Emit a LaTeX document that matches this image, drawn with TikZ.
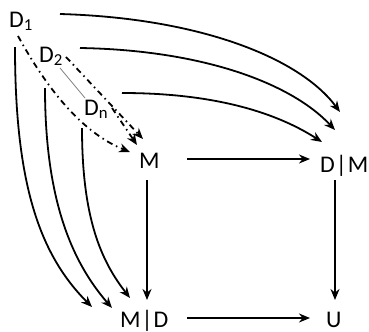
\documentclass[tikz,border=0pt]{standalone}
\usepackage{fontspec}
\setmainfont{Carlito}
\usetikzlibrary{arrows.meta}
\newcommand{\givenbar}{\kern1bp|\kern1bp}
\begin{document}
\begin{tikzpicture}[x=1bp,y=-1bp,
  lbl/.style={font=\fontsize{24}{27}\selectfont, inner sep=0pt, anchor=base west},
  conn/.style={line width=1.8bp, -{Stealth[length=11bp,width=9bp]}},
  dashdot/.style={conn, dash pattern=on 6bp off 4bp on 1.5bp off 4bp},
  dots/.style={line width=0.8bp, gray}]
\useasboundingbox (0,0) rectangle (369,332);

% labels
\node[lbl] (D1) at (9,27)   {D\textsubscript{1}};
\node[lbl] (D2) at (39,62)  {D\textsubscript{2}};
\node[lbl] (Dn) at (84,115) {D\textsubscript{n}};
\node[lbl] (M)  at (139,168) {M};
\node[lbl] (DM) at (320,172) {D\givenbar M};
\node[lbl] (MD) at (120,327) {M\givenbar D};
\node[lbl] (U)  at (326,327) {U};

% ellipsis between D2 and Dn
\draw[dots] ([shift={(21,6)}]D2.base west) -- ([shift={(1,-17)}]Dn.base west);

% each D_i onto M
\draw[dashdot] ([shift={(9,9)}]D1.base west)
  .. controls (45,85) and (80,132) .. ([shift={(-9,-16)}]M.base west);
\draw[dashdot] ([shift={(27,-5)}]D2.base west) -- ([shift={(4,-29)}]M.base west);
\draw[dashdot] ([shift={(28,-7)}]Dn.base west) -- ([shift={(-2,-23)}]M.base west);

% each D_i onto D|M
\draw[conn] ([shift={(51,-13)}]D1.base west)
  .. controls (200,18) and (300,58) .. ([shift={(20,-60)}]DM.base west);
\draw[conn] ([shift={(41,-14)}]D2.base west)
  .. controls (200,50) and (290,82) .. ([shift={(15,-42)}]DM.base west);
\draw[conn] ([shift={(38,-22)}]Dn.base west)
  .. controls (220,93) and (280,115) .. ([shift={(2,-30)}]DM.base west);

% each D_i onto M|D
\draw[conn] ([shift={(6,20)}]D1.base west)
  .. controls (15,185) and (40,255) .. ([shift={(-28,-20)}]MD.base west);
\draw[conn] ([shift={(6,26)}]D2.base west)
  .. controls (45,200) and (72,262) .. ([shift={(-8,-19)}]MD.base west);
\draw[conn] ([shift={(-2,13)}]Dn.base west)
  .. controls (82,220) and (102,262) .. ([shift={(10,-29)}]MD.base west);

% square of maps
\draw[conn] ([shift={(48,-9)}]M.base west)  -- ([shift={(-10,-13)}]DM.base west);
\draw[conn] ([shift={(67,-9)}]MD.base west) -- ([shift={(-16,-9)}]U.base west);
\draw[conn] ([shift={(15,8)}]DM.base west)  -- ([shift={(9,-27)}]U.base west);
\draw[conn] ([shift={(8,12)}]M.base west)   -- ([shift={(27,-27)}]MD.base west);
\end{tikzpicture}
\end{document}
